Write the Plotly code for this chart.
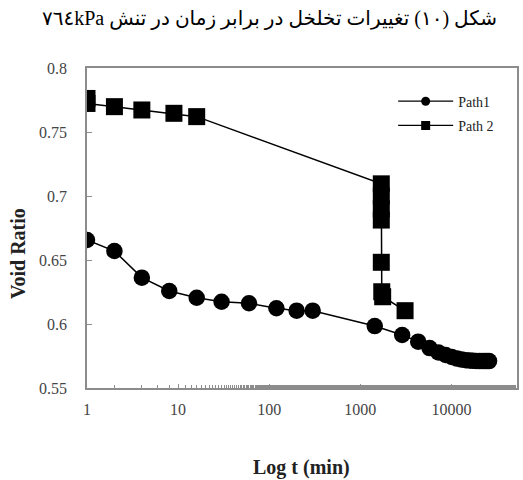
import plotly.graph_objects as go

# Path 1: elapsed time (min) and void ratio
path1_t = [1, 2, 4, 8, 16, 30, 60, 120, 200, 300,
           1440, 2880, 4320, 5760, 7200, 8640, 10080, 11520, 12960,
           14400, 15840, 17280, 18720, 20160, 21600, 23040, 24480, 25920]
path1_e = [0.6656, 0.657, 0.6362, 0.6258, 0.6205, 0.6174, 0.6162, 0.6123, 0.6104, 0.6104,
           0.5984, 0.5914, 0.5862, 0.5812, 0.5778, 0.5758, 0.5742, 0.5730, 0.5722,
           0.5717, 0.5714, 0.5712, 0.5711, 0.5710, 0.5710, 0.5710, 0.5710, 0.5710]

# Path 2: elapsed time (min) and void ratio
path2_t = [1, 1, 2, 4, 9, 16, 1700, 1700, 1700, 1700, 1700, 1720, 1760, 3100]
path2_e = [0.7762, 0.7723, 0.7698, 0.7672, 0.7646, 0.7620,
           0.7095, 0.7000, 0.6900, 0.6812, 0.6482, 0.6252, 0.6213, 0.6104]

x_ticks = [1, 10, 100, 1000, 10000]
x_tick_text = ["1", "10", "100", "1000", "10000"]
y_ticks = [0.55, 0.6, 0.65, 0.7, 0.75, 0.8]
y_tick_text = ["0.55", "0.6", "0.65", "0.7", "0.75", "0.8"]

legend_names = ["Path1", "Path 2"]

title = "شکل (۱۰) تغییرات تخلخل در برابر زمان در تنش ٧٦٤kPa"
x_title = "Log t (min)"
y_title = "Void Ratio"

SERIF = "Liberation Serif, Times New Roman, serif"
AXIS_GRAY = "#8c8c8c"
TICK_COLOR = "#444"

fig = go.Figure()

fig.add_trace(go.Scatter(
    x=path1_t, y=path1_e, mode="lines+markers", showlegend=False,
    line=dict(color="black", width=1.5),
    marker=dict(symbol="circle", size=16.5, color="black"),
))
fig.add_trace(go.Scatter(
    x=path2_t, y=path2_e, mode="lines+markers", showlegend=False,
    line=dict(color="black", width=1.5),
    marker=dict(symbol="square", size=17, color="black"),
))

# legend entries with small glyphs
for name, sym, grp in zip(legend_names, ["circle", "square"], ["g1", "g2"]):
    fig.add_trace(go.Scatter(
        x=[None], y=[None], mode="lines+markers", name=name, legendgroup=grp,
        line=dict(color="black", width=1.2),
        marker=dict(symbol=sym, size=9, color="black"),
    ))

fig.update_layout(
    width=523, height=480,
    margin=dict(l=87, r=4, t=68, b=92),
    paper_bgcolor="white", plot_bgcolor="white",
    font=dict(family=SERIF, color="#222", size=14),
    showlegend=True,
    legend=dict(
        x=0.712, y=0.945, xanchor="left", yanchor="top",
        bgcolor="rgba(0,0,0,0)", borderwidth=0,
        font=dict(family=SERIF, size=14, color="#222"),
        itemwidth=55, tracegroupgap=3,
    ),
    xaxis=dict(
        type="log", range=[0, 4.72],
        tickvals=x_ticks, ticktext=x_tick_text,
        ticks="inside", ticklen=4, tickcolor=AXIS_GRAY,
        minor=dict(ticks="inside", ticklen=3, tickcolor=AXIS_GRAY, showgrid=False),
        showgrid=False, zeroline=False,
        showline=True, linecolor=AXIS_GRAY, linewidth=1.5, mirror=True,
        tickfont=dict(family=SERIF, size=16, color=TICK_COLOR),
        ticklabelstandoff=6,
    ),
    yaxis=dict(
        range=[0.55, 0.8],
        tickvals=y_ticks, ticktext=y_tick_text,
        ticks="inside", ticklen=5, tickcolor=AXIS_GRAY,
        showgrid=False, zeroline=False,
        showline=True, linecolor=AXIS_GRAY, linewidth=1.5, mirror=True,
        tickfont=dict(family=SERIF, size=16, color=TICK_COLOR),
        ticklabelstandoff=15,
    ),
)

# heading laid out as a right-to-left paragraph
fig.add_annotation(
    text="\u202b" + title + "\u202c", xref="paper", yref="paper", x=0.425, y=1.155,
    showarrow=False, xanchor="center", yanchor="middle",
    font=dict(family="Liberation Serif, DejaVu Sans, serif", size=20, color="black"),
)
fig.add_annotation(
    text="<b>" + x_title + "</b>", xref="paper", yref="paper", x=0.498, y=-0.247,
    showarrow=False, xanchor="center", yanchor="middle",
    font=dict(family=SERIF, size=20, color="#222"),
)
fig.add_annotation(
    text="<b>" + y_title + "</b>", xref="paper", yref="paper", x=-0.16, y=0.419,
    showarrow=False, xanchor="center", yanchor="middle", textangle=-90,
    font=dict(family=SERIF, size=20, color="#222"),
)

fig.write_html("out.html")
